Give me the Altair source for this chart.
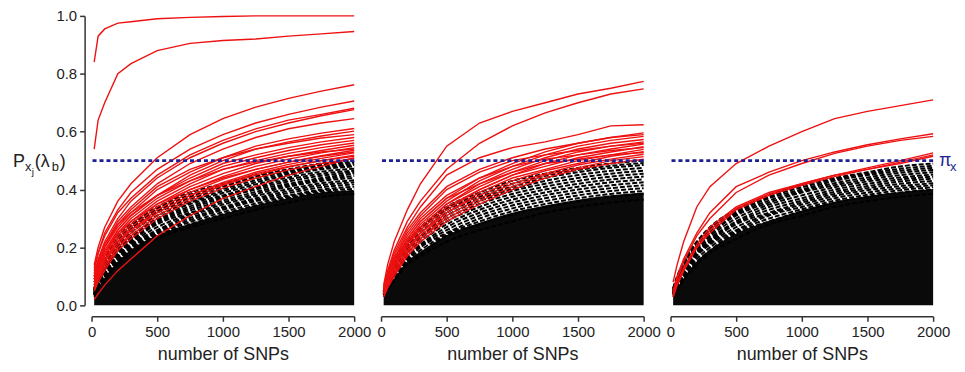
import altair as alt
import pandas as pd

# ---------------- data ----------------
XS = [20, 50, 100, 200, 300, 500, 750, 1000, 1250, 1500, 1750, 2000]
X_TICKS = [0, 500, 1000, 1500, 2000]
Y_TICKS = [0.0, 0.2, 0.4, 0.6, 0.8, 1.0]
PI_X = 0.5

# panel 1: red curves (exceed pi_x)
p1_red = [
    [0.84, 0.93, 0.955, 0.975, 0.98, 0.99, 0.995, 0.998, 1.0, 1.0, 1.0, 1.0],
    [0.54, 0.64, 0.70, 0.80, 0.835, 0.88, 0.905, 0.915, 0.92, 0.93, 0.938, 0.946],
    [0.14, 0.20, 0.27, 0.36, 0.42, 0.51, 0.59, 0.645, 0.685, 0.715, 0.74, 0.762],
    [0.12, 0.18, 0.25, 0.33, 0.39, 0.47, 0.54, 0.59, 0.63, 0.66, 0.685, 0.706],
    [0.13, 0.18, 0.24, 0.32, 0.37, 0.45, 0.52, 0.57, 0.61, 0.64, 0.66, 0.681],
    [0.11, 0.16, 0.22, 0.30, 0.36, 0.44, 0.51, 0.56, 0.60, 0.63, 0.655, 0.676],
    [0.10, 0.15, 0.21, 0.29, 0.34, 0.42, 0.49, 0.54, 0.58, 0.61, 0.63, 0.645],
    [0.10, 0.14, 0.20, 0.27, 0.32, 0.40, 0.46, 0.51, 0.55, 0.575, 0.595, 0.611],
    [0.08, 0.13, 0.19, 0.26, 0.31, 0.38, 0.45, 0.50, 0.54, 0.565, 0.585, 0.602],
    [0.09, 0.14, 0.20, 0.28, 0.33, 0.41, 0.47, 0.51, 0.54, 0.56, 0.578, 0.59],
    [0.08, 0.12, 0.18, 0.26, 0.31, 0.38, 0.44, 0.49, 0.52, 0.545, 0.565, 0.58],
    [0.09, 0.13, 0.18, 0.25, 0.30, 0.37, 0.43, 0.48, 0.51, 0.535, 0.555, 0.570],
    [0.07, 0.12, 0.17, 0.24, 0.29, 0.36, 0.42, 0.47, 0.50, 0.525, 0.545, 0.561],
    [0.08, 0.11, 0.16, 0.23, 0.28, 0.35, 0.41, 0.455, 0.49, 0.515, 0.535, 0.553],
    [0.06, 0.10, 0.15, 0.22, 0.27, 0.34, 0.40, 0.445, 0.48, 0.505, 0.527, 0.545],
    [0.10, 0.15, 0.21, 0.28, 0.32, 0.38, 0.43, 0.47, 0.495, 0.515, 0.53, 0.54],
    [0.07, 0.10, 0.15, 0.21, 0.26, 0.33, 0.39, 0.435, 0.47, 0.495, 0.517, 0.536],
    [0.09, 0.13, 0.18, 0.25, 0.29, 0.35, 0.40, 0.44, 0.47, 0.495, 0.515, 0.53],
    [0.05, 0.09, 0.14, 0.20, 0.25, 0.32, 0.38, 0.425, 0.46, 0.487, 0.508, 0.527],
    [0.06, 0.09, 0.13, 0.20, 0.24, 0.31, 0.37, 0.415, 0.45, 0.478, 0.50, 0.519],
    [0.07, 0.11, 0.16, 0.22, 0.26, 0.32, 0.38, 0.42, 0.455, 0.48, 0.50, 0.515],
    [0.05, 0.08, 0.12, 0.19, 0.23, 0.30, 0.36, 0.405, 0.44, 0.468, 0.49, 0.508],
    [0.02, 0.04, 0.07, 0.12, 0.16, 0.24, 0.31, 0.37, 0.41, 0.45, 0.48, 0.51],
]
# panel 1: black dashed curves (below pi_x) and the dense core below them
p1_black = [
    [0.06, 0.10, 0.16, 0.24, 0.28, 0.34, 0.39, 0.42, 0.45, 0.47, 0.49, 0.50],
    [0.058, 0.095, 0.155, 0.23, 0.275, 0.335, 0.382, 0.415, 0.445, 0.465, 0.485, 0.495],
    [0.055, 0.09, 0.15, 0.22, 0.27, 0.33, 0.375, 0.41, 0.44, 0.46, 0.48, 0.49],
    [0.052, 0.09, 0.145, 0.215, 0.265, 0.325, 0.368, 0.402, 0.432, 0.455, 0.475, 0.485],
    [0.05, 0.09, 0.14, 0.21, 0.26, 0.32, 0.36, 0.395, 0.425, 0.45, 0.47, 0.48],
    [0.05, 0.085, 0.135, 0.205, 0.25, 0.31, 0.355, 0.388, 0.418, 0.442, 0.462, 0.472],
    [0.05, 0.08, 0.13, 0.20, 0.24, 0.30, 0.35, 0.38, 0.41, 0.435, 0.455, 0.465],
    [0.048, 0.08, 0.125, 0.195, 0.235, 0.295, 0.342, 0.375, 0.405, 0.428, 0.448, 0.46],
    [0.045, 0.08, 0.12, 0.19, 0.23, 0.29, 0.335, 0.37, 0.40, 0.42, 0.44, 0.455],
    [0.042, 0.075, 0.12, 0.185, 0.225, 0.285, 0.328, 0.362, 0.392, 0.415, 0.435, 0.447],
    [0.04, 0.07, 0.12, 0.18, 0.22, 0.28, 0.32, 0.355, 0.385, 0.41, 0.43, 0.44],
    [0.04, 0.07, 0.115, 0.175, 0.215, 0.27, 0.315, 0.348, 0.378, 0.402, 0.422, 0.432],
    [0.04, 0.07, 0.11, 0.17, 0.21, 0.26, 0.31, 0.34, 0.37, 0.395, 0.415, 0.425],
    [0.038, 0.065, 0.105, 0.165, 0.205, 0.255, 0.302, 0.335, 0.365, 0.388, 0.408, 0.418],
    [0.035, 0.06, 0.10, 0.16, 0.20, 0.25, 0.295, 0.33, 0.36, 0.38, 0.40, 0.41],
    [0.035, 0.06, 0.095, 0.155, 0.195, 0.245, 0.288, 0.322, 0.352, 0.375, 0.395, 0.402],
    [0.035, 0.06, 0.09, 0.15, 0.19, 0.24, 0.28, 0.315, 0.345, 0.37, 0.39, 0.395],
    [0.03, 0.055, 0.09, 0.14, 0.18, 0.23, 0.27, 0.30, 0.33, 0.355, 0.375, 0.385],
]
p1_core = [0.035, 0.06, 0.095, 0.152, 0.192, 0.242, 0.282, 0.316, 0.346, 0.37, 0.39, 0.397]

# panel 2
p2_red = [
    [0.07, 0.14, 0.22, 0.33, 0.42, 0.55, 0.63, 0.67, 0.70, 0.73, 0.75, 0.774],
    [0.06, 0.12, 0.19, 0.29, 0.36, 0.47, 0.56, 0.62, 0.665, 0.70, 0.73, 0.748],
    [0.06, 0.11, 0.18, 0.27, 0.34, 0.45, 0.51, 0.545, 0.565, 0.59, 0.62, 0.624],
    [0.05, 0.09, 0.15, 0.23, 0.29, 0.37, 0.44, 0.49, 0.53, 0.56, 0.58, 0.596],
    [0.06, 0.11, 0.17, 0.26, 0.32, 0.41, 0.47, 0.51, 0.54, 0.56, 0.58, 0.59],
    [0.06, 0.10, 0.15, 0.22, 0.28, 0.36, 0.43, 0.48, 0.52, 0.55, 0.57, 0.584],
    [0.05, 0.09, 0.14, 0.22, 0.27, 0.35, 0.42, 0.47, 0.51, 0.54, 0.56, 0.573],
    [0.04, 0.08, 0.13, 0.21, 0.27, 0.35, 0.41, 0.46, 0.50, 0.53, 0.55, 0.565],
    [0.05, 0.10, 0.16, 0.25, 0.31, 0.40, 0.46, 0.50, 0.52, 0.535, 0.55, 0.56],
    [0.05, 0.09, 0.14, 0.21, 0.26, 0.34, 0.40, 0.45, 0.49, 0.52, 0.54, 0.557],
    [0.04, 0.08, 0.13, 0.20, 0.25, 0.33, 0.40, 0.45, 0.48, 0.51, 0.53, 0.548],
    [0.05, 0.10, 0.16, 0.24, 0.30, 0.38, 0.44, 0.48, 0.505, 0.52, 0.535, 0.545],
    [0.04, 0.07, 0.12, 0.19, 0.25, 0.32, 0.39, 0.44, 0.47, 0.50, 0.52, 0.539],
    [0.04, 0.08, 0.12, 0.19, 0.24, 0.32, 0.38, 0.43, 0.465, 0.49, 0.515, 0.531],
    [0.05, 0.09, 0.15, 0.23, 0.29, 0.37, 0.42, 0.46, 0.49, 0.505, 0.52, 0.528],
    [0.03, 0.07, 0.11, 0.18, 0.23, 0.31, 0.37, 0.42, 0.455, 0.485, 0.505, 0.522],
    [0.04, 0.07, 0.11, 0.18, 0.23, 0.30, 0.36, 0.41, 0.45, 0.475, 0.50, 0.514],
    [0.03, 0.06, 0.10, 0.17, 0.22, 0.29, 0.35, 0.40, 0.44, 0.47, 0.49, 0.505],
]
p2_black = [
    [0.05, 0.09, 0.15, 0.22, 0.27, 0.34, 0.39, 0.43, 0.455, 0.475, 0.49, 0.50],
    [0.05, 0.088, 0.145, 0.215, 0.265, 0.335, 0.382, 0.42, 0.448, 0.468, 0.482, 0.492],
    [0.05, 0.085, 0.14, 0.21, 0.26, 0.33, 0.375, 0.41, 0.44, 0.46, 0.475, 0.485],
    [0.048, 0.082, 0.135, 0.205, 0.25, 0.32, 0.368, 0.402, 0.43, 0.45, 0.465, 0.475],
    [0.045, 0.08, 0.13, 0.20, 0.24, 0.31, 0.36, 0.395, 0.42, 0.44, 0.455, 0.465],
    [0.042, 0.078, 0.125, 0.195, 0.235, 0.30, 0.35, 0.385, 0.41, 0.43, 0.445, 0.455],
    [0.04, 0.075, 0.12, 0.19, 0.23, 0.29, 0.34, 0.375, 0.40, 0.42, 0.435, 0.445],
    [0.04, 0.072, 0.115, 0.18, 0.22, 0.28, 0.33, 0.365, 0.39, 0.41, 0.425, 0.435],
    [0.04, 0.07, 0.11, 0.17, 0.21, 0.27, 0.32, 0.355, 0.38, 0.40, 0.415, 0.425],
    [0.038, 0.065, 0.105, 0.165, 0.205, 0.26, 0.31, 0.345, 0.37, 0.39, 0.405, 0.415],
    [0.035, 0.06, 0.10, 0.16, 0.20, 0.25, 0.30, 0.335, 0.36, 0.38, 0.395, 0.405],
    [0.035, 0.06, 0.095, 0.155, 0.19, 0.245, 0.29, 0.325, 0.35, 0.37, 0.385, 0.395],
    [0.035, 0.06, 0.09, 0.15, 0.18, 0.24, 0.28, 0.315, 0.34, 0.36, 0.375, 0.385],
    [0.03, 0.055, 0.085, 0.14, 0.17, 0.22, 0.26, 0.29, 0.32, 0.34, 0.355, 0.365],
]
p2_core = [0.036, 0.06, 0.092, 0.152, 0.185, 0.242, 0.285, 0.32, 0.345, 0.365, 0.38, 0.39]

# panel 3
p3_red = [
    [0.08, 0.14, 0.22, 0.34, 0.41, 0.49, 0.55, 0.60, 0.645, 0.67, 0.69, 0.71],
    [0.05, 0.10, 0.16, 0.25, 0.32, 0.41, 0.46, 0.50, 0.53, 0.555, 0.575, 0.593],
    [0.04, 0.09, 0.15, 0.24, 0.30, 0.39, 0.45, 0.49, 0.525, 0.55, 0.57, 0.584],
    [0.04, 0.08, 0.13, 0.21, 0.27, 0.34, 0.39, 0.42, 0.45, 0.475, 0.50, 0.527],
    [0.03, 0.07, 0.12, 0.20, 0.26, 0.335, 0.385, 0.42, 0.45, 0.47, 0.495, 0.52],
    [0.03, 0.07, 0.12, 0.20, 0.25, 0.33, 0.38, 0.415, 0.445, 0.47, 0.49, 0.515],
]
p3_black = [
    [0.06, 0.10, 0.15, 0.22, 0.27, 0.33, 0.38, 0.415, 0.44, 0.46, 0.48, 0.49],
    [0.058, 0.095, 0.145, 0.215, 0.265, 0.325, 0.375, 0.408, 0.435, 0.455, 0.472, 0.482],
    [0.055, 0.09, 0.14, 0.21, 0.26, 0.32, 0.37, 0.40, 0.43, 0.45, 0.465, 0.475],
    [0.052, 0.088, 0.135, 0.205, 0.252, 0.315, 0.362, 0.395, 0.422, 0.442, 0.458, 0.468],
    [0.05, 0.085, 0.13, 0.20, 0.245, 0.31, 0.355, 0.39, 0.415, 0.435, 0.45, 0.46],
    [0.048, 0.082, 0.125, 0.195, 0.238, 0.30, 0.348, 0.38, 0.408, 0.428, 0.442, 0.452],
    [0.045, 0.08, 0.12, 0.19, 0.23, 0.29, 0.34, 0.37, 0.40, 0.42, 0.435, 0.445],
    [0.042, 0.078, 0.115, 0.185, 0.225, 0.285, 0.33, 0.362, 0.392, 0.412, 0.428, 0.438],
    [0.04, 0.075, 0.11, 0.18, 0.22, 0.28, 0.32, 0.355, 0.385, 0.405, 0.42, 0.43],
    [0.04, 0.072, 0.105, 0.175, 0.215, 0.27, 0.315, 0.348, 0.378, 0.398, 0.412, 0.422],
    [0.04, 0.07, 0.10, 0.17, 0.21, 0.26, 0.31, 0.34, 0.37, 0.39, 0.405, 0.415],
    [0.038, 0.065, 0.098, 0.16, 0.20, 0.255, 0.30, 0.332, 0.362, 0.382, 0.398, 0.408],
    [0.035, 0.06, 0.095, 0.15, 0.19, 0.25, 0.29, 0.325, 0.355, 0.375, 0.39, 0.40],
    [0.03, 0.055, 0.085, 0.14, 0.18, 0.23, 0.28, 0.31, 0.34, 0.36, 0.375, 0.385],
]
p3_core = [0.036, 0.06, 0.094, 0.152, 0.192, 0.248, 0.292, 0.328, 0.358, 0.378, 0.392, 0.402]

Y_LABEL_PARTS = ["P", "x", "j", "(\u03bb", "b", ")"]
PI_LABEL_PARTS = ["\u03c0", "x"]
X_TITLE = "number of SNPs"

# ---------------- build tables ----------------
def curves_df(curves):
    rows = []
    for i, c in enumerate(curves):
        for x, y in zip(XS, c):
            rows.append({"id": i, "x": x, "y": y})
    return pd.DataFrame(rows)

def core_df(core):
    return pd.DataFrame({"x": XS, "y": core})

FONT = "Liberation Sans"
RED = "#ee1111"
BLUE = "#1f1f95"

xscale = alt.Scale(domain=[0, 2000], nice=False)
yscale = alt.Scale(domain=[0, 1], nice=False)
xaxis = alt.Axis(values=X_TICKS, format="d", offset=11, tickSize=5,
                 labelPadding=3, titlePadding=6, title=X_TITLE,
                 labelFlush=False)


def panel(red, black, core, show_y, extra=None):
    yaxis = (alt.Axis(values=Y_TICKS, format=".1f", offset=7, tickSize=5,
                      labelPadding=3, title=None)
             if show_y else None)
    xenc = alt.X("x:Q", scale=xscale, axis=xaxis)
    yenc = alt.Y("y:Q", scale=yscale, axis=yaxis)
    area = alt.Chart(core_df(core)).mark_area(
        color="#0a0a0a", interpolate="monotone").encode(x=xenc, y=yenc)
    blk = alt.Chart(curves_df(black)).mark_line(
        color="black", strokeWidth=2.0, strokeDash=[5, 2],
        interpolate="monotone").encode(x=xenc, y=yenc, detail="id:N")
    rd = alt.Chart(curves_df(red)).mark_line(
        color=RED, strokeWidth=1.4).encode(x=xenc, y=yenc, detail="id:N")
    rule = alt.Chart(pd.DataFrame({"y": [PI_X]})).mark_rule(
        color=BLUE, strokeWidth=2.6, strokeDash=[4, 3]).encode(y=yenc)
    layers = [area, blk, rd, rule]
    if extra:
        layers += extra
    return alt.layer(*layers).properties(width=264, height=291)


def txt(s, x, y, size, color="#222"):
    return alt.Chart(pd.DataFrame({"t": [s]})).mark_text(
        align="left", baseline="alphabetic", font=FONT, fontSize=size,
        color=color).encode(text="t:N", x=alt.value(x), y=alt.value(y))

ylab = [
    txt(Y_LABEL_PARTS[0], -79, 152, 18),
    txt(Y_LABEL_PARTS[1], -67, 156, 13),
    txt(Y_LABEL_PARTS[2], -60, 160, 10),
    txt(Y_LABEL_PARTS[3], -57, 152, 18),
    txt(Y_LABEL_PARTS[4], -40, 156, 13),
    txt(Y_LABEL_PARTS[5], -32, 152, 18),
]
pilab = [
    txt(PI_LABEL_PARTS[0], 270, 151, 18, BLUE),
    txt(PI_LABEL_PARTS[1], 281, 156, 13, BLUE),
]

c1 = panel(p1_red, p1_black, p1_core, True, ylab)
c2 = panel(p2_red, p2_black, p2_core, False)
c3 = panel(p3_red, p3_black, p3_core, False, pilab)

chart = alt.hconcat(c1, c2, c3, spacing=27, bounds="flush").properties(
    padding={"left": 5, "top": 0, "right": 0, "bottom": 0}
).configure_view(stroke=None).configure_axis(
    grid=False, labelFont=FONT, titleFont=FONT, labelFontSize=15,
    titleFontSize=18, titleFontWeight="normal", labelColor="#222",
    titleColor="#222", domainColor="#333", tickColor="#333",
    domainWidth=1.5, tickWidth=1.5)

chart.save("out.html", embed_options={"renderer": "svg", "actions": False})
